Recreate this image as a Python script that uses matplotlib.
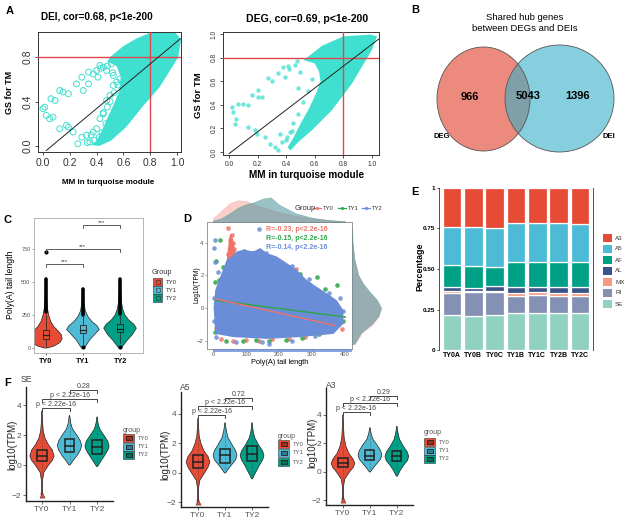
import numpy as np
import matplotlib
matplotlib.use("Agg")
import matplotlib.pyplot as plt
from matplotlib.patches import Ellipse, Rectangle

plt.rcParams['font.family'] = ['Liberation Sans', 'DejaVu Sans']

# ======================= DATA =======================
TURQ = '#40E0D0'
# ---- Panel A, DEI: dense cloud outline (MM, GS) + sparse outliers
dei_cloud_mm = [0.42, 0.51, 0.62, 0.74, 0.87, 1.01, 1.03, 0.99, 0.80, 0.70, 0.60, 0.50, 0.48, 0.55, 0.58, 0.57, 0.53, 0.48, 0.44, 0.40, 0.36]
dei_cloud_gs = [0.00, 0.05, 0.17, 0.35, 0.53, 0.80, 0.96, 1.02, 1.02, 0.97, 0.90, 0.80, 0.76, 0.72, 0.62, 0.50, 0.38, 0.25, 0.14, 0.05, 0.01]
dei_out_mm = [0.00, 0.025, 0.013, 0.05, 0.075, 0.06, 0.09, 0.125, 0.15, 0.19, 0.25, 0.29, 0.30, 0.34, 0.34, 0.375, 0.41, 0.425, 0.475,
              0.125, 0.175, 0.19, 0.225, 0.26, 0.29, 0.325, 0.35, 0.375, 0.40, 0.425, 0.45, 0.475, 0.50, 0.525, 0.55, 0.575, 0.525, 0.45, 0.51, 0.59, 0.625,
              0.45, 0.48, 0.50, 0.53, 0.56, 0.47, 0.44, 0.42, 0.38, 0.33, 0.36, 0.52, 0.48, 0.43, 0.40]
dei_out_gs = [0.336, 0.276, 0.35, 0.246, 0.26, 0.426, 0.41, 0.50, 0.486, 0.47, 0.56, 0.62, 0.50, 0.56, 0.666, 0.65, 0.62, 0.726, 0.68,
              0.156, 0.186, 0.17, 0.126, 0.02, 0.08, 0.096, 0.036, 0.126, 0.156, 0.246, 0.29, 0.41, 0.456, 0.546, 0.576, 0.606, 0.636, 0.71, 0.74, 0.426, 0.68,
              0.30, 0.35, 0.40, 0.48, 0.55, 0.20, 0.12, 0.08, 0.05, 0.03, 0.10, 0.66, 0.72, 0.70, 0.68]
dei_fit_mm = [0.025, 1.025]
dei_fit_gs = [-0.04, 0.966]

# ---- Panel A, DEG
deg_cloud_mm = [0.43, 0.485, 0.58, 0.72, 0.86, 1.00, 1.035, 0.99, 0.80, 0.65, 0.545, 0.52, 0.60, 0.63, 0.64, 0.61, 0.56, 0.50, 0.45, 0.41]
deg_cloud_gs = [0.014, 0.085, 0.185, 0.355, 0.58, 0.866, 0.98, 0.995, 0.98, 0.90, 0.80, 0.78, 0.75, 0.68, 0.60, 0.50, 0.37, 0.24, 0.12, 0.04]
deg_out_mm = [0.02, 0.03, 0.05, 0.04, 0.065, 0.10, 0.135, 0.16, 0.205, 0.205, 0.23, 0.275, 0.30, 0.345, 0.39, 0.415, 0.475, 0.485,
              0.18, 0.195, 0.135, 0.25, 0.285, 0.32, 0.345, 0.37, 0.405, 0.43, 0.357,
              0.45, 0.48, 0.52, 0.55, 0.58, 0.44, 0.40, 0.50, 0.46, 0.42, 0.38]
deg_out_gs = [0.38, 0.34, 0.28, 0.24, 0.41, 0.41, 0.40, 0.48, 0.525, 0.47, 0.47, 0.625, 0.60, 0.67, 0.64, 0.725, 0.77, 0.54,
              0.185, 0.156, 0.213, 0.128, 0.071, 0.043, 0.014, 0.085, 0.128, 0.17, 0.156,
              0.25, 0.32, 0.42, 0.52, 0.62, 0.18, 0.10, 0.68, 0.74, 0.70, 0.72]
deg_fit_mm = [0.0, 1.047]
deg_fit_gs = [-0.014, 0.957]

# ---- Panel B
venn_counts = [966, 5043, 1396]
venn_sets = ['DEG', 'DEI']

# ---- shared groups
groups = ['TY0', 'TY1', 'TY2']
NPG = ['#E64B35', '#4DBBD5', '#00A087']

# ---- Panel C: violin profiles (Poly(A) tail length, relative width)
c_vy = [[0, 15, 40, 70, 100, 130, 160, 200, 250, 300, 360, 420, 470],
        [0, 20, 60, 100, 140, 170, 200, 240, 280, 330, 380, 430],
        [0, 20, 60, 100, 150, 180, 210, 250, 300, 360, 420, 500]]
c_vw = [[0.10, 0.50, 0.85, 1.00, 0.95, 0.75, 0.50, 0.30, 0.17, 0.10, 0.06, 0.04, 0.02],
        [0.08, 0.20, 0.40, 0.70, 1.00, 0.85, 0.55, 0.30, 0.15, 0.08, 0.05, 0.02],
        [0.08, 0.20, 0.45, 0.75, 1.00, 0.85, 0.55, 0.30, 0.15, 0.08, 0.05, 0.02]]
c_box = [(65, 100, 140), (115, 140, 175), (118, 145, 178)]
c_whisk = [(15, 250), (30, 250), (35, 260)]
c_out_lo = [270, 250, 260]
c_out_hi = [520, 450, 520]
c_out_single = [[730], [5], [5]]
c_sig = [(1, 2, 636, '***'), (1, 3, 749, '***'), (2, 3, 932, '***')]

# ---- Panel D
d_blue_x = [7, 22, 42, 57, 72, 93, 123, 143, 163, 193, 224, 254, 284, 314, 345, 375, 395, 395, 365, 264, 163, 62, 7, 2]
d_blue_y = [1.1, 1.93, 2.97, 3.17, 3.48, 3.59, 3.48, 3.69, 3.38, 3.17, 2.76, 2.34, 1.72, 1.31, 0.9, 0.48, -0.14, -0.97, -1.59, -1.79, -1.9, -1.79, -1.59, 0.07]
d_red_spike_x = [40, 45, 50, 55, 60, 65, 70, 72]
d_red_spike_y = [2.5, 3.6, 4.4, 4.6, 4.3, 3.8, 3.2, 2.5]
d_red_x = [47, 57, 52, 60, 55, 65, 45, 62, 30, 20, 8, 10, 25, 60, 100, 140, 180, 230, 280, 330, 370, 385, 390, 360, 250, 200, 150, 110, 300, 340]
d_red_y = [4.93, 4.5, 4.2, 4.0, 3.8, 3.6, 3.3, 3.1, 1.3, 0.9, -0.3, -1.2, -1.9, -2.0, -1.95, -2.0, -1.9, -1.9, -1.8, -1.5, -1.0, -0.6, -1.3, -0.7, 2.4, 2.9, 3.4, 3.3, 1.3, 0.8]
d_green_x = [22, 10, 17, 5, 12, 5, 40, 90, 130, 170, 220, 270, 320, 360, 380, 395, 314, 375, 264, 340, 290, 230, 180, 95, 120, 30, 350]
d_green_y = [4.2, 2.9, 1.7, 1.6, 0.2, -1.5, -2.0, -2.0, -1.95, -2.05, -1.95, -1.85, -1.6, -1.2, -0.5, -0.8, 1.9, 1.4, 2.1, 1.2, 1.5, 2.5, 3.0, 3.5, 3.4, 2.5, -0.3]
d_bluep_x = [138, 7, 2, 5, 15, 3, 2, 10, 70, 150, 240, 310, 380, 395, 385, 350, 290, 240, 160, 80, 170]
d_bluep_y = [4.83, 4.2, 3.7, 2.8, 2.2, 0.6, -0.8, -1.8, -2.1, -2.1, -2.0, -1.7, -0.9, -0.2, 0.6, 0.9, 1.8, 2.6, 3.4, 3.3, -2.2]
d_fit = {'TY0': ([10, 370], [0.55, -1.07]), 'TY2': ([10, 400], [0.45, -0.55]), 'TY1': ([10, 400], [0.47, -0.55])}
d_stats = ['R=-0.23, p<2.2e-16', 'R=-0.15, p<2.2e-16', 'R=-0.14, p<2.2e-16']
d_top_x = [0, 25, 50, 75, 100, 125, 150, 175, 200, 250, 300, 350, 400]
d_top_dens = [[0.15, 0.45, 0.75, 0.88, 0.85, 0.72, 0.60, 0.50, 0.40, 0.25, 0.15, 0.08, 0.03],
              [0.05, 0.15, 0.35, 0.58, 0.72, 0.80, 0.95, 1.00, 0.70, 0.35, 0.17, 0.08, 0.03],
              [0.05, 0.14, 0.33, 0.55, 0.70, 0.80, 0.93, 0.97, 0.70, 0.35, 0.17, 0.08, 0.03]]
d_right_y = [-2.2, -1.5, -1.0, -0.5, 0.0, 0.5, 1.0, 1.5, 2.0, 3.0, 4.0, 5.0]
d_right_dens = [[0.1, 0.35, 0.70, 0.90, 0.95, 0.80, 0.55, 0.35, 0.20, 0.08, 0.02, 0.0],
                [0.08, 0.30, 0.65, 0.90, 1.00, 0.85, 0.60, 0.38, 0.22, 0.08, 0.02, 0.0],
                [0.08, 0.30, 0.65, 0.88, 0.98, 0.85, 0.60, 0.38, 0.22, 0.08, 0.02, 0.0]]
D_COL = ['#F0736A', '#2DA548', '#6A8DD8']

# ---- Panel E
e_samples = ['TY0A', 'TY0B', 'TY0C', 'TY1B', 'TY1C', 'TY2B', 'TY2C']
e_types = ['A3', 'A5', 'AF', 'AL', 'MX', 'RI', 'SE']
e_colors = ['#E64B35', '#4DBBD5', '#00A087', '#3C5488', '#F39B7F', '#8491B4', '#91D1C2']
e_SE = [0.216, 0.212, 0.214, 0.227, 0.231, 0.231, 0.227]
e_RI = [0.134, 0.143, 0.141, 0.107, 0.109, 0.103, 0.107]
e_MX = [0.015, 0.008, 0.012, 0.016, 0.015, 0.016, 0.016]
e_AL = [0.023, 0.021, 0.025, 0.038, 0.033, 0.038, 0.038]
e_AF = [0.138, 0.136, 0.123, 0.158, 0.158, 0.158, 0.154]
e_A5 = [0.231, 0.237, 0.238, 0.235, 0.238, 0.235, 0.237]
e_A3 = [0.243, 0.243, 0.247, 0.219, 0.216, 0.219, 0.221]

# ---- Panel F
f_titles = ['SE', 'A5', 'A3']
f_vy = [[[-2.0, -1.6, -1.0, -0.5, 0.0, 0.3, 0.6, 1.0, 1.4, 1.8, 2.3, 2.8, 3.3, 3.6],
         [0.0, 0.3, 0.6, 1.0, 1.3, 1.6, 2.0, 2.4, 2.8, 3.3],
         [-0.1, 0.2, 0.6, 1.0, 1.25, 1.6, 2.0, 2.4, 2.8, 3.2]],
        [[-2.0, -1.5, -1.0, -0.5, 0.0, 0.4, 0.75, 1.1, 1.5, 2.0, 2.5, 3.0, 3.4, 3.7],
         [0.0, 0.3, 0.6, 0.9, 1.2, 1.5, 1.9, 2.4, 2.9, 3.4],
         [-0.4, 0.0, 0.5, 0.9, 1.2, 1.5, 1.9, 2.4, 2.9, 3.4]],
        [[-2.0, -1.5, -1.0, -0.5, 0.0, 0.3, 0.6, 0.9, 1.3, 1.8, 2.4, 3.0, 3.6, 4.0],
         [0.0, 0.3, 0.6, 0.9, 1.2, 1.5, 1.9, 2.3, 2.7, 3.1],
         [-0.3, 0.1, 0.5, 0.8, 1.1, 1.4, 1.8, 2.3, 2.8, 3.2]]]
f_w_ty0 = [0.08, 0.03, 0.05, 0.15, 0.55, 0.85, 1.0, 0.85, 0.5, 0.25, 0.1, 0.06, 0.03, 0.01]
f_w_ty1 = [0.05, 0.3, 0.6, 0.9, 1.0, 0.9, 0.6, 0.25, 0.1, 0.02]
f_w_ty2 = [0.04, 0.28, 0.6, 0.9, 1.0, 0.88, 0.55, 0.22, 0.08, 0.02]
f_box = [[(0.25, 0.6, 1.0), (0.85, 1.3, 1.75), (0.75, 1.2, 1.65)],
         [(0.35, 0.75, 1.2), (0.7, 1.2, 1.6), (0.8, 1.3, 1.8)],
         [(0.35, 0.65, 1.0), (0.85, 1.15, 1.55), (0.8, 1.1, 1.45)]]
f_sig = [[(1, 2, 3.8, 'p < 2.22e-16'), (1, 3, 4.4, 'p < 2.22e-16'), (2, 3, 5.0, '0.28')],
         [(1, 2, 3.93, 'p < 2.22e-16'), (1, 3, 4.54, 'p < 2.22e-16'), (2, 3, 5.08, '0.72')],
         [(1, 2, 4.21, 'p < 2.22e-16'), (1, 3, 4.84, 'p < 2.22e-16'), (2, 3, 5.33, '0.29')]]

# ======================= LAYOUT HELPERS =======================
W, H = 631, 524
fig = plt.figure(figsize=(W / 100, H / 100), dpi=100)


def add_ax(x0, y0, x1, y1):
    return fig.add_axes([x0 / W, 1 - y1 / H, (x1 - x0) / W, (y1 - y0) / H])


def pix_ax(x0, y0, x1, y1):
    ax = add_ax(x0, y0, x1, y1)
    ax.set_xlim(x0, x1)
    ax.set_ylim(y1, y0)
    ax.axis('off')
    return ax


def ftext(x, y, s, **kw):
    kw.setdefault('ha', 'center')
    kw.setdefault('va', 'center')
    fig.text(x / W, 1 - y / H, s, **kw)


def violin(ax, cx, ys, ws, hw, color, lw=0.5):
    ys = np.asarray(ys, float)
    ws = np.asarray(ws, float) * hw
    xs = np.r_[cx - ws, (cx + ws)[::-1]]
    yy = np.r_[ys, ys[::-1]]
    ax.fill(xs, yy, facecolor=color, edgecolor='#222222', lw=lw, zorder=2)


def bracket(ax, x0, x1, y, tick, text, fs, color, tcolor=None, lw=0.6):
    ax.plot([x0, x0, x1, x1], [y - tick, y, y, y - tick], color=color, lw=lw, zorder=5, clip_on=False)
    ax.text((x0 + x1) / 2, y + tick * 0.15, text, ha='center', va='bottom', fontsize=fs,
            color=tcolor or color, zorder=5, clip_on=False)


# ======================= PANEL A =======================
def panel_a(box, xlim, ylim, cmm, cgs, omm, ogs, fmm, fgs, hollow, tfs, yt):
    ax = add_ax(*box)
    ax.fill(cmm, cgs, color=TURQ, lw=0, zorder=2)
    if hollow:
        ax.scatter(omm, ogs, s=18, facecolors='none', edgecolors=TURQ, linewidths=0.7, zorder=3)
    else:
        ax.scatter(omm, ogs, s=10, color=TURQ, alpha=0.75, linewidths=0, zorder=3)
    ax.axvline(0.8, color='#E0474C', lw=1.0, zorder=4)
    ax.axhline(0.8, color='#E0474C', lw=1.0, zorder=4)
    ax.plot(fmm, fgs, color='#222222', lw=0.7, zorder=5)
    ax.set_xlim(*xlim)
    ax.set_ylim(*ylim)
    ax.set_xticks([0, 0.2, 0.4, 0.6, 0.8, 1.0])
    ax.set_xticklabels(['0.0', '0.2', '0.4', '0.6', '0.8', '1.0'])
    ax.set_yticks(yt)
    ax.set_yticklabels(['%.1f' % v for v in yt], rotation=90, va='center')
    ax.tick_params(labelsize=tfs, length=2.5, width=0.6, pad=1.5, colors='#333333')
    for s in ax.spines.values():
        s.set_linewidth(0.7)
        s.set_color('#333333')
    return ax


panel_a((38, 32, 181, 152), (-0.037, 1.03), (-0.054, 1.027), dei_cloud_mm, dei_cloud_gs,
        dei_out_mm, dei_out_gs, dei_fit_mm, dei_fit_gs, True, 7.5, [0.0, 0.4, 0.8])
ftext(97, 17, 'DEI, cor=0.68, p<1e-200', fontsize=7.2, fontweight='bold')
ftext(9, 92, 'GS for TM', fontsize=6.5, fontweight='bold', rotation=90)
ftext(108, 182, 'MM in turquoise module', fontsize=5.8, fontweight='bold')

panel_a((223, 32, 379, 155), (-0.042, 1.049), (-0.025, 1.017), deg_cloud_mm, deg_cloud_gs,
        deg_out_mm, deg_out_gs, deg_fit_mm, deg_fit_gs, False, 4.8, [0.0, 0.2, 0.4, 0.6, 0.8, 1.0])
ftext(307, 19, 'DEG, cor=0.69, p<1e-200', fontsize=7.6, fontweight='bold')
ftext(199, 95, 'GS for TM', fontsize=6.8, fontweight='bold', rotation=90)
ftext(307, 175, 'MM in turquoise module', fontsize=7.2, fontweight='bold')

# ======================= PANEL B =======================
axb = pix_ax(390, 0, 631, 180)
left = Ellipse((483.5, 99), 93, 104, facecolor='#EC8A7E', edgecolor='none', zorder=1)
right = Ellipse((559.5, 98.5), 109, 107, facecolor='#86CFDF', edgecolor='none', zorder=2)
axb.add_patch(left)
axb.add_patch(right)
ov = Ellipse((483.5, 99), 93, 104, facecolor='#7FA0A8', edgecolor='none', zorder=3)
axb.add_patch(ov)
ov.set_clip_path(right)
axb.add_patch(Ellipse((483.5, 99), 93, 104, fill=False, edgecolor='#555555', lw=0.6, zorder=4))
axb.add_patch(Ellipse((559.5, 98.5), 109, 107, fill=False, edgecolor='#555555', lw=0.6, zorder=4))
for (xx, yy), n in zip([(470, 97), (528, 96), (578, 96)], venn_counts):
    axb.text(xx, yy, str(n), ha='center', va='center', fontsize=8, fontweight='bold', zorder=6)
axb.text(442, 137, venn_sets[0], ha='center', va='center', fontsize=5.5, fontweight='bold')
axb.text(609, 137, venn_sets[1], ha='center', va='center', fontsize=5.5, fontweight='bold')
ftext(525, 23, 'Shared hub genes\nbetween DEGs and DEIs', fontsize=6.8, linespacing=1.15)

# ======================= PANEL C =======================
axc = add_ax(34, 218, 143, 353)
for i, g in enumerate(groups):
    cx = i + 1
    violin(axc, cx, c_vy[i], c_vw[i], 0.44, NPG[i], lw=0.5)
    axc.plot([cx, cx], [c_out_lo[i], c_out_hi[i]], color='black', lw=2.6, solid_capstyle='round', zorder=3)
    axc.scatter([cx] * len(c_out_single[i]), c_out_single[i], s=9, color='black', zorder=4, lw=0)
    q1, md, q3 = c_box[i]
    axc.plot([cx, cx], [c_whisk[i][0], q1], color='#222222', lw=0.5, zorder=4)
    axc.plot([cx, cx], [q3, c_whisk[i][1]], color='#222222', lw=0.5, zorder=4)
    axc.add_patch(Rectangle((cx - 0.09, q1), 0.18, q3 - q1, fill=False, edgecolor='#222222', lw=0.6, zorder=4))
    axc.plot([cx - 0.09, cx + 0.09], [md, md], color='#222222', lw=0.9, zorder=4)
for a, b, y, t in c_sig:
    bracket(axc, a, b, y, 22, t, 4.5, '#444444', lw=0.6)
axc.set_xlim(0.68, 3.62)
axc.set_ylim(-38, 985)
axc.set_yticks([0, 250, 500, 750])
axc.set_yticklabels(['0', '250', '500', '750'])
axc.set_xticks([1, 2, 3])
axc.set_xticklabels(groups, fontweight='bold')
axc.tick_params(axis='y', labelsize=4, length=1.5, width=0.4, pad=1, colors='#555555')
axc.tick_params(axis='x', labelsize=5.2, length=1.5, width=0.4, pad=2)
for s in axc.spines.values():
    s.set_color('#aaaaaa')
    s.set_linewidth(0.6)
ftext(11, 285, 'Poly(A) tail length', fontsize=6.2, rotation=90)
axcl = pix_ax(145, 262, 200, 305)
axcl.text(152, 272, 'Group', fontsize=5.3, va='center', ha='left', color='#333333')
for i, g in enumerate(groups):
    yc = 282 + 8 * i
    axcl.add_patch(Rectangle((153, yc - 3.8), 9, 7.6, facecolor=NPG[i], edgecolor='#333333', lw=0.4))
    axcl.add_patch(Rectangle((155.5, yc - 2), 4, 4, fill=False, edgecolor='#333333', lw=0.4))
    axcl.text(166, yc, g, fontsize=4.3, va='center', ha='left', color='#333333')

# ======================= PANEL D =======================
axd = add_ax(207, 222, 352, 349)
axd.fill(d_blue_x, d_blue_y, color=D_COL[2], lw=0, zorder=2)
axd.fill(d_red_spike_x, d_red_spike_y, color=D_COL[0], lw=0, zorder=1)
axd.scatter(d_red_x, d_red_y, s=11, color=D_COL[0], alpha=0.85, lw=0, zorder=1.5)
axd.scatter(d_green_x, d_green_y, s=11, color=D_COL[1], alpha=0.85, lw=0, zorder=1.6)
axd.scatter(d_bluep_x, d_bluep_y, s=11, color=D_COL[2], alpha=0.85, lw=0, zorder=1.7)
for g, c in zip(['TY2', 'TY1', 'TY0'], [D_COL[2], D_COL[1], D_COL[0]]):
    xs, ys = d_fit[g]
    axd.plot(xs, ys, color=c, lw=1.0, zorder=3)
for k, (t, c) in enumerate(zip(d_stats, D_COL)):
    axd.text(347, 4.8 - 0.55 * k, t, color=c, fontsize=5, ha='right', va='center', fontweight='bold', zorder=6)
axd.set_xlim(-18, 421)
axd.set_ylim(-2.52, 5.29)
axd.set_xticks([0, 100, 200, 300, 400])
axd.set_yticks([-2, 0, 2, 4])
axd.tick_params(labelsize=4.2, length=1.5, width=0.4, pad=1, colors='#555555')
for s in axd.spines.values():
    s.set_color('#888888')
    s.set_linewidth(0.6)
fig.patches.append(Rectangle((213 / W, 1 - 352 / H), 139 / W, 3 / H, transform=fig.transFigure,
                             facecolor=D_COL[2], edgecolor='none', alpha=0.8))
ftext(197, 285, 'Log10(TPM)', fontsize=4.8, rotation=90)
ftext(280, 362, 'Poly(A) tail length', fontsize=5.3)

axdt = add_ax(207, 196, 352, 222)
for i in range(3):
    axdt.fill_between(d_top_x, 0, d_top_dens[i], color=D_COL[i], alpha=0.35, lw=0.4, edgecolor=D_COL[i])
axdt.set_xlim(-18, 421)
axdt.set_ylim(0, 1.05)
axdt.axis('off')
axdr = add_ax(352, 222, 383, 349)
for i in range(3):
    axdr.fill_betweenx(d_right_y, 0, d_right_dens[i], color=D_COL[i], alpha=0.35, lw=0.4, edgecolor=D_COL[i])
axdr.set_ylim(-2.52, 5.29)
axdr.set_xlim(0, 1.05)
axdr.axis('off')
axdl = pix_ax(285, 201, 395, 215)
axdl.text(295, 208, 'Group', fontsize=5.5, va='center', ha='left', color='#333333')
for i, (g, xl) in enumerate(zip(groups, [313, 338, 362])):
    axdl.plot([xl, xl + 8], [208, 208], color=D_COL[i], lw=0.9)
    axdl.scatter([xl + 4], [208], s=5, color=D_COL[i], lw=0)
    axdl.text(xl + 10, 208, g, fontsize=4.2, va='center', ha='left', color='#333333')

# ======================= PANEL E =======================
axe = add_ax(439, 188, 593, 350)
layers = [e_SE, e_RI, e_MX, e_AL, e_AF, e_A5, e_A3]
layer_cols = e_colors[::-1]
xpos = np.arange(len(e_samples))
bottom = np.zeros(len(e_samples))
for vals, col in zip(layers, layer_cols):
    axe.bar(xpos, vals, bottom=bottom, width=0.86, color=col, edgecolor='white', lw=0.9)
    bottom = bottom + np.asarray(vals)
axe.set_xlim(-0.61, 6.61)
axe.set_ylim(0, 1)
axe.set_yticks([0, 0.25, 0.5, 0.75, 1])
axe.set_yticklabels(['0', '0.25', '0.50', '0.75', '1'])
axe.set_xticks(xpos)
axe.set_xticklabels(e_samples, fontweight='bold')
axe.tick_params(axis='y', labelsize=4.6, length=1.5, width=0.5, pad=1)
axe.tick_params(axis='x', labelsize=5, length=0, pad=1.5)
for lab in axe.get_yticklabels():
    lab.set_fontweight('bold')
axe.spines['top'].set_visible(False)
axe.spines['bottom'].set_visible(False)
for s in ['left', 'right']:
    axe.spines[s].set_linewidth(0.6)
    axe.spines[s].set_color('#333333')
ftext(420, 267, 'Percentage', fontsize=6.4, fontweight='bold', rotation=90)
axel = pix_ax(598, 230, 631, 312)
for i, (t, c) in enumerate(zip(e_types, e_colors)):
    yc = [238, 249, 260, 271, 282, 293, 304][i]
    axel.add_patch(Rectangle((603, yc - 4), 9, 8, facecolor=c, edgecolor='none'))
    axel.text(615, yc, t, fontsize=4.5, va='center', ha='left', color='#333333')

# ======================= PANEL F =======================
f_geom = [((26, 387, 113, 501), (0.42, 3.58), (-2.4, 5.2)),
          ((181, 392, 268, 507), (0.37, 3.59), (-2.31, 5.49)),
          ((326, 388, 413, 505), (0.37, 3.6), (-2.32, 5.89))]
f_title_pos = [(21, 380), (180, 387), (326, 385)]
f_ylab_pos = [(12, 445), (165, 455), (312, 443)]
f_leg = [(123, 430, [438, 447, 455]), (278, 436, [444, 453, 462]), (424, 433, [442, 451, 459])]
f_w = [f_w_ty0, f_w_ty1, f_w_ty2]
for p in range(3):
    box, xl, yl = f_geom[p]
    ax = add_ax(*box)
    for i in range(3):
        cx = i + 1
        violin(ax, cx, f_vy[p][i], f_w[i], 0.44, NPG[i], lw=0.5)
        q1, md, q3 = f_box[p][i]
        ax.plot([cx, cx], [f_vy[p][i][0] + 0.2, f_vy[p][i][-1] - 0.2], color='#333333', lw=0.4, ls=':', zorder=3)
        ax.add_patch(Rectangle((cx - 0.17, q1), 0.34, q3 - q1, facecolor='none', edgecolor='#222222', lw=1.1, zorder=4))
        ax.plot([cx - 0.17, cx + 0.17], [md, md], color='#222222', lw=1.1, zorder=4)
    ax.scatter([1], [f_vy[p][0][0]], marker='^', s=14, color=NPG[0], edgecolor='#222222', lw=0.3, zorder=5)
    for a, b, y, t in f_sig[p]:
        bracket(ax, a, b, y, 0.2, t, 5, '#444444', lw=0.7)
    ax.set_xlim(*xl)
    ax.set_ylim(*yl)
    ax.set_xticks([1, 2, 3])
    ax.set_xticklabels(groups)
    ax.set_yticks([-2, 0, 2, 4])
    ax.tick_params(axis='both', labelsize=6, length=2, width=0.6, pad=1.5, colors='#555555')
    ax.spines['top'].set_visible(False)
    ax.spines['right'].set_visible(False)
    for s in ['left', 'bottom']:
        ax.spines[s].set_linewidth(1.0)
        ax.spines[s].set_color('#222222')
    tx, ty = f_title_pos[p]
    ftext(tx, ty, f_titles[p], fontsize=6.2, ha='left', color='#444444')
    lx, ly = f_ylab_pos[p]
    ftext(lx, ly, 'log10(TPM)', fontsize=7, rotation=90, color='#222222')
    gx, gy, rows = f_leg[p]
    axl = pix_ax(gx - 2, gy - 6, gx + 30, rows[-1] + 6)
    axl.text(gx, gy, 'group', fontsize=5, va='center', ha='left', color='#555555')
    for i, yc in enumerate(rows):
        axl.add_patch(Rectangle((gx, yc - 4.2), 11, 8.4, facecolor=NPG[i], edgecolor='#333333', lw=0.4))
        axl.add_patch(Rectangle((gx + 2.5, yc - 2.2), 6, 4.4, facecolor='#00000055', edgecolor='#222222', lw=0.6))
        axl.text(gx + 15, yc, groups[i], fontsize=4.2, va='center', ha='left', color='#555555')

# ======================= PANEL LETTERS =======================
for L, (x, y) in zip('ABCDEF', [(10, 11), (415, 10), (8, 220), (187, 219), (415, 192), (8, 383)]):
    ftext(x, y, L, fontsize=8, fontweight='bold')

fig.savefig('out.png', dpi=100)
